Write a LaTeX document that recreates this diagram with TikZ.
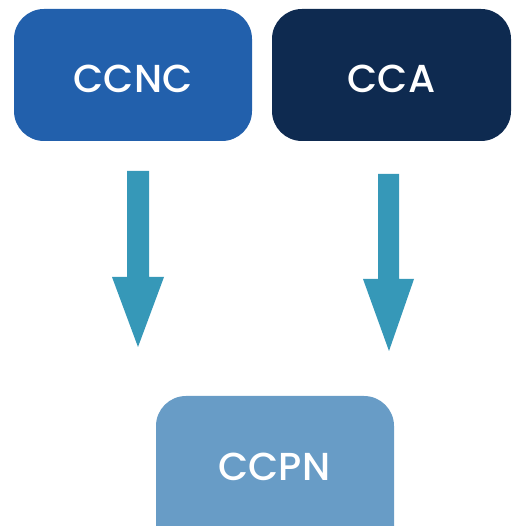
\documentclass[tikz,border=0pt]{standalone}
\usepackage{fontspec}
\setmainfont{Poppins Medium}
\definecolor{ccncblue}{HTML}{2260AC}
\definecolor{ccanavy}{HTML}{0E2A50}
\definecolor{ccpnblue}{HTML}{689CC6}
\definecolor{arrowteal}{HTML}{3698B8}
\tikzset{
  box/.style={rounded corners=30pt, inner sep=0pt},
  lbl/.style={text=white, font=\fontsize{39}{39}\selectfont},
  fatarrow/.style={fill=arrowteal, draw=none}
}
\begin{document}
\begin{tikzpicture}[x=1pt,y=1pt]
\useasboundingbox (0,0) rectangle (518,526);
\clip (0,0) rectangle (518,526);
% boxes (y = 526 - pixel y)
\fill[ccncblue, box] (14,385) rectangle (252,517);
\fill[ccanavy, box] (272,385) rectangle (511,517);
\fill[ccpnblue, box] (156,-40) rectangle (394,130);
\node[lbl] (ccnc) at (133,447) {CCNC};
\node[lbl] (cca) at (391.5,447) {CCA};
\node[lbl] (ccpn) at (274.5,59.5) {CCPN};
% arrows
\coordinate (la) at (138,355);
\coordinate (ra) at (388.5,352);
\fill[fatarrow] (la) ++(-11,0) -- ++(22,0) -- ++(0,-106) -- ++(15,0) -- (138,179) -- (112,249) -- ++(15,0) -- cycle;
\fill[fatarrow] (ra) ++(-10.5,0) -- ++(21,0) -- ++(0,-105) -- ++(15,0) -- (389,175) -- (363,247) -- ++(15,0) -- cycle;
\end{tikzpicture}
\end{document}
